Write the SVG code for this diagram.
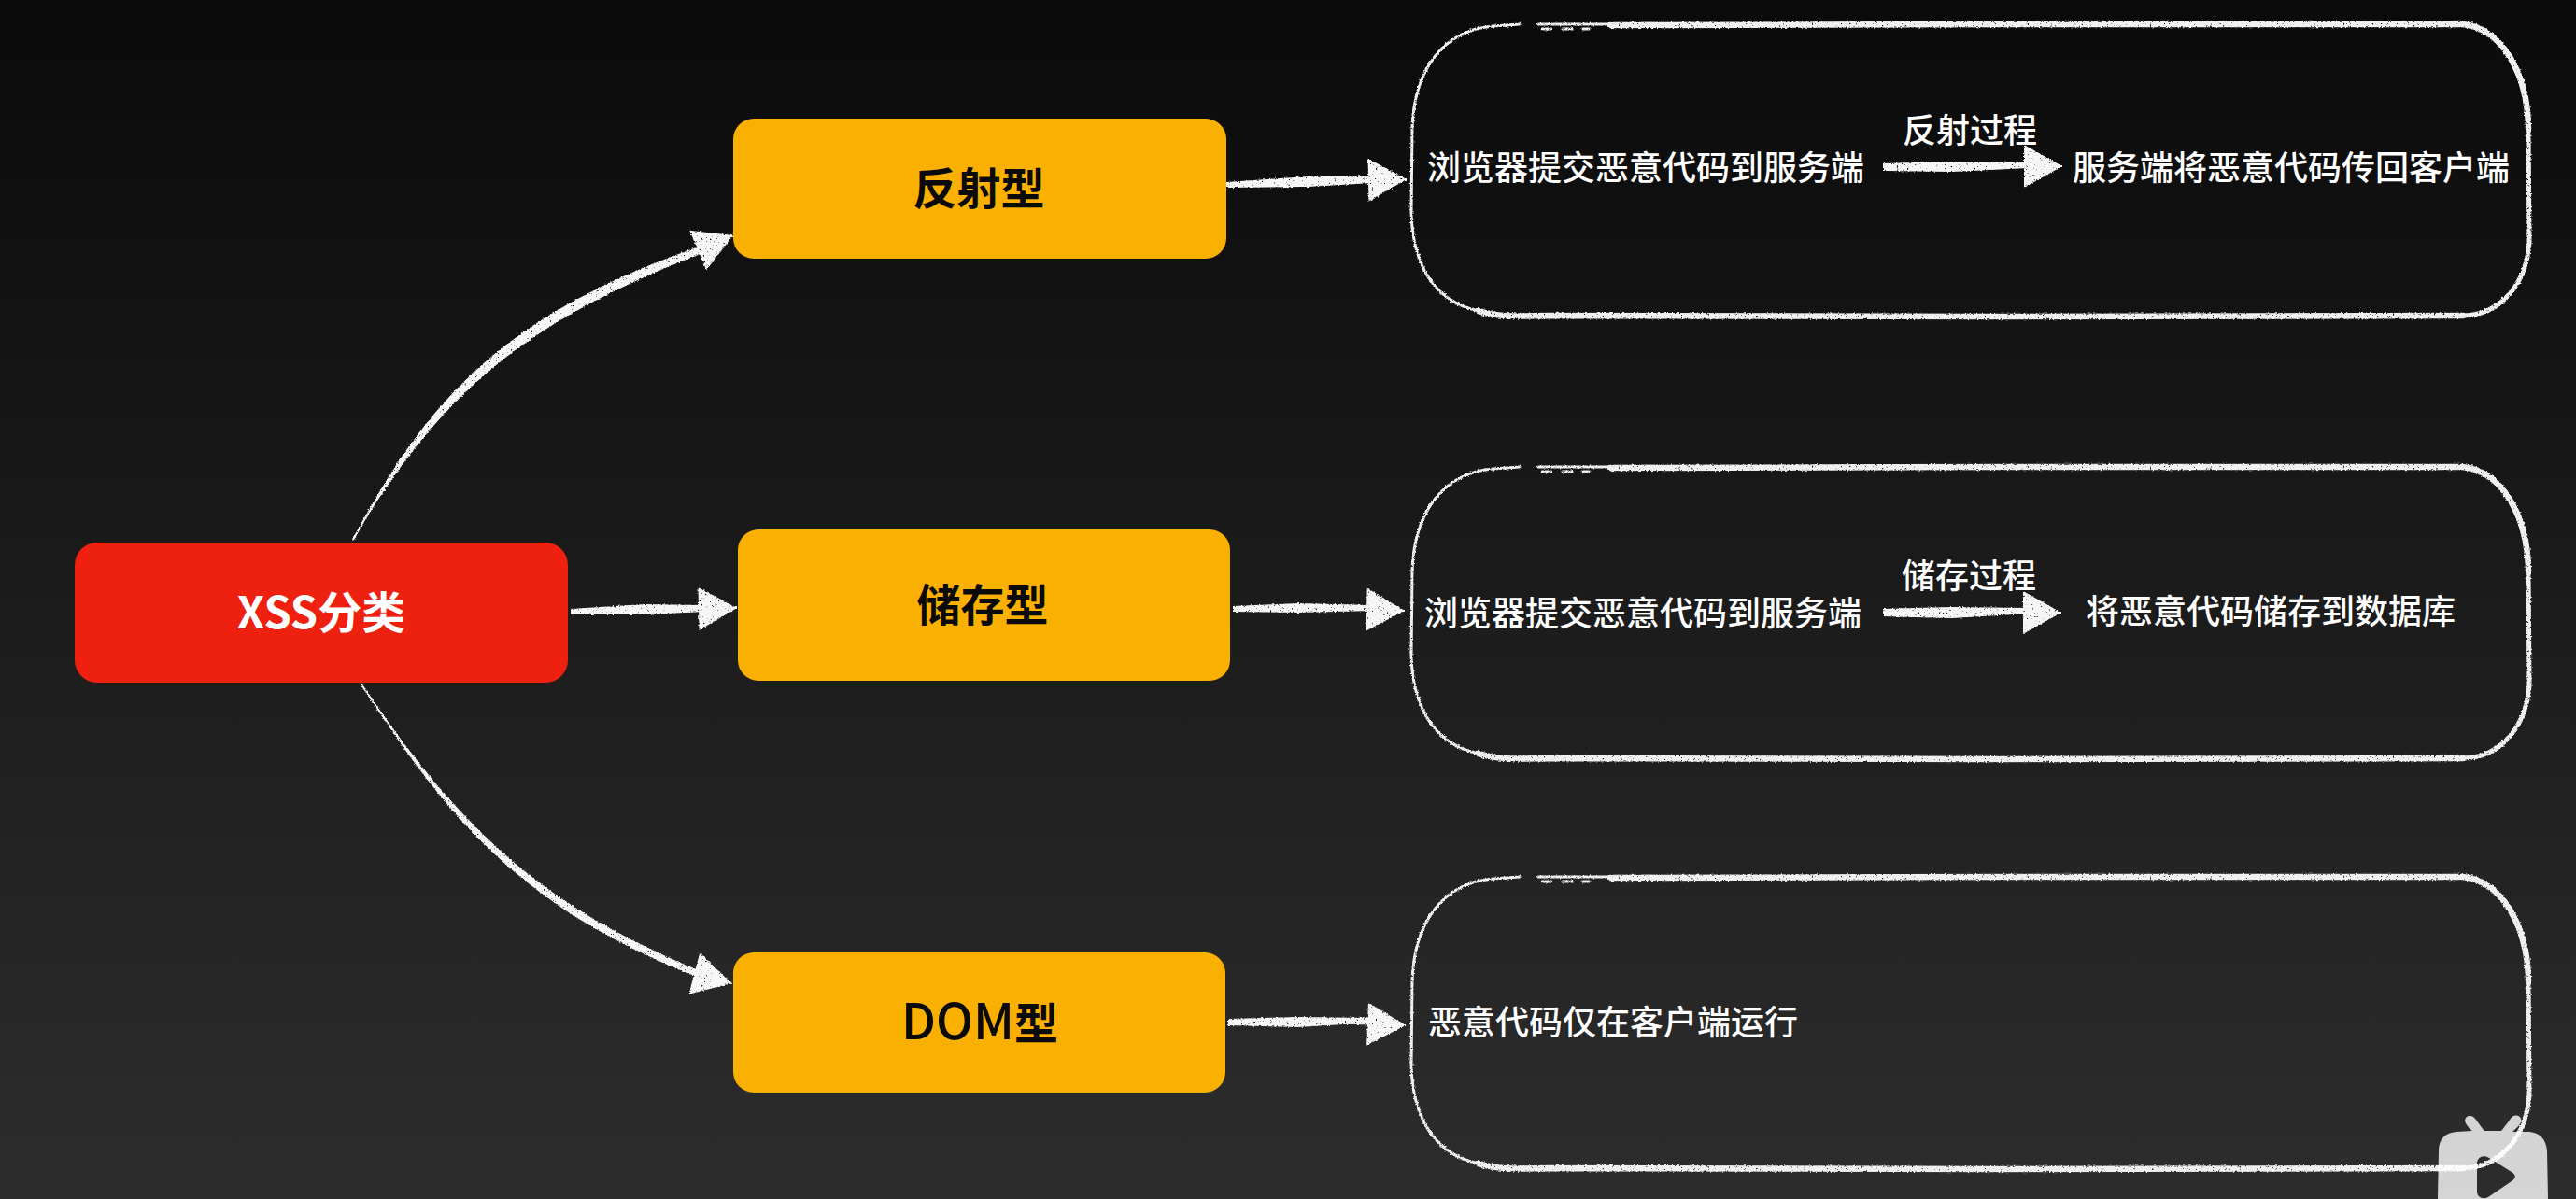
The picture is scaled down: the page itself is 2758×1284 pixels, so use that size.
<svg xmlns="http://www.w3.org/2000/svg" width="2758" height="1284" viewBox="0 0 2758 1284">
  <style>
    text { font-family: "Noto Sans CJK SC", "Noto Sans", "Liberation Sans", sans-serif; }
    .title { font-size: 47px; font-weight: 700; text-anchor: middle; fill: #0a0a0a; }
    .latin { font-size: 53px; font-weight: 500; }
    .root { font-size: 47px; font-weight: 700; text-anchor: middle; fill: #ffffff; }
    .body { font-size: 36px; font-weight: 500; fill: #ffffff; }
    .red { fill: #ee2010; }
    .orange { fill: #fab000; }
    .line { fill: none; stroke: #f4f4f4; stroke-width: 2; marker-end: url(#head); }
    .taper { fill: #f6f6f6; stroke: none; }
    .sk { fill: none; stroke: #f0f0f0; stroke-linecap: round; }
    .w2 { stroke-width: 3; }
    .w4 { stroke-width: 5; }
    .w5 { stroke-width: 6.5; }
  </style>
  <defs>
    <linearGradient id="bg" x1="0" y1="0" x2="0" y2="1">
      <stop offset="0" stop-color="#0a0a0a"/>
      <stop offset="1" stop-color="#2d2d2d"/>
    </linearGradient>
    <filter id="chalk" x="-3%" y="-6%" width="106%" height="112%">
      <feTurbulence type="fractalNoise" baseFrequency="0.45" numOctaves="2" seed="4" result="n"/>
      <feDisplacementMap in="SourceGraphic" in2="n" scale="3" xChannelSelector="R" yChannelSelector="G" result="d"/>
      <feColorMatrix in="n" type="matrix" values="0 0 0 0 1  0 0 0 0 1  0 0 0 0 1  0 0 0 -8 6.4" result="m"/>
      <feComposite in="d" in2="m" operator="in"/>
    </filter>
    <marker id="head" markerUnits="userSpaceOnUse" markerWidth="44" markerHeight="50" refX="41" refY="25" orient="auto" overflow="visible">
      <path d="M0,2 L41,25 L0,48 Z" fill="#f6f6f6"/>
    </marker>
    <g id="sketch">
      <path class="sk w2" d="M116,1 L88,3 C34,7 3,50 1,112 L0,205 C2,258 24,298 72,308"/>
      <path class="sk w2" d="M136,1 L213,1"/>
      <path class="sk w2" stroke-dasharray="10 12" d="M140,6 L190,6"/>
      <path class="sk w5" d="M213,2 L640,1 L1125,1"/>
      <path class="sk w5" d="M1125,1 C1165,4 1195,50 1196,112"/>
      <path class="sk w4" d="M1196,112 L1197,235 C1194,275 1170,312 1126,313"/>
      <path class="sk w5" d="M72,308 C90,314 110,314 140,313 L620,314 L1126,313"/>
    </g>
  </defs>

  <rect width="2758" height="1284" fill="url(#bg)"/>

  <g id="connectors" filter="url(#chalk)">
    <g id="c-xss-reflect">
      <path class="line" d="M378,578 C469,411 567,335 745,269 L785,252"/>
      <path class="taper" d="M378,578 C465,407 565,329 748,264 L750,272 C571,341 474,415 378,578 Z"/>
    </g>
    <g id="c-xss-store">
      <path class="line" d="M611,655 L700,653 L789,651"/>
      <path class="taper" d="M611,652 L690,647 L755,648 L755,655 L690,658 L611,658 Z"/>
    </g>
    <g id="c-xss-dom">
      <path class="line" d="M387,733 C486,882 568,972 745,1043 L783,1053"/>
      <path class="taper" d="M387,733 C488,879 571,967 748,1039 L746,1046 C567,976 483,885 387,733 Z"/>
    </g>
    <g id="c-reflect-1">
      <path class="line" d="M1313,198 L1400,194 L1506,192"/>
      <path class="taper" d="M1313,195 L1400,189 L1470,188 L1470,196 L1400,200 L1313,201 Z"/>
    </g>
    <g id="c-store-1">
      <path class="line" d="M1320,652 L1400,651 L1504,654"/>
      <path class="taper" d="M1320,649 L1390,646 L1470,648 L1470,654 L1390,656 L1320,655 Z"/>
    </g>
    <g id="c-dom-1">
      <path class="line" d="M1315,1095 L1400,1094 L1505,1098"/>
      <path class="taper" d="M1315,1091 L1390,1089 L1470,1090 L1470,1095 L1390,1100 L1315,1098 Z"/>
    </g>
    <g id="c-reflect-2">
      <path class="line" d="M2016,178 L2100,178 L2208,178"/>
      <path class="taper" d="M2016,175 L2090,173 L2172,174 L2172,180 L2090,184 L2016,183 Z"/>
    </g>
    <g id="c-store-2">
      <path class="line" d="M2016,656 L2100,656 L2207,656"/>
      <path class="taper" d="M2016,652 L2090,650 L2172,651 L2172,657 L2090,662 L2016,660 Z"/>
    </g>
  </g>

  <g id="node-xss">
    <rect class="red" x="80" y="581" width="528" height="150" rx="24"/>
    <text class="root" x="344" y="673">XSS分类</text>
  </g>
  <g id="node-reflect">
    <rect class="orange" x="785" y="127" width="528" height="150" rx="22"/>
    <text class="title" x="1048" y="219">反射型</text>
  </g>
  <g id="node-store">
    <rect class="orange" x="790" y="567" width="527" height="162" rx="22"/>
    <text class="title" x="1052" y="665">储存型</text>
  </g>
  <g id="node-dom">
    <rect class="orange" x="785" y="1020" width="527" height="150" rx="22"/>
    <text class="title" x="1049" y="1113"><tspan class="latin">DOM</tspan>型</text>
  </g>

  <g id="panel-reflect">
    <use href="#sketch" transform="translate(1511,25)" filter="url(#chalk)"/>
    <text class="body" x="1528" y="193">浏览器提交恶意代码到服务端</text>
    <text class="body" x="2037" y="153">反射过程</text>
    <text class="body" x="2219" y="193">服务端将恶意代码传回客户端</text>
  </g>
  <g id="panel-store">
    <use href="#sketch" transform="translate(1511,499)" filter="url(#chalk)"/>
    <text class="body" x="1525" y="670">浏览器提交恶意代码到服务端</text>
    <text class="body" x="2036" y="630">储存过程</text>
    <text class="body" x="2233" y="668">将恶意代码储存到数据库</text>
  </g>
  <g id="panel-dom">
    <use href="#sketch" transform="translate(1511,938)" filter="url(#chalk)"/>
    <text class="body" x="1529" y="1108">恶意代码仅在客户端运行</text>
  </g>

  <g id="watermark">
    <path fill="#ffffff" fill-opacity="0.8" fill-rule="evenodd" d="M2640,1203 C2637,1197 2643,1193 2648,1196 C2651,1198 2654,1204 2660,1211 L2678,1211 C2684,1204 2688,1197 2691,1195 C2696,1193 2701,1197 2699,1202 C2697,1206 2693,1209 2690,1212 L2708,1212 C2720,1213 2726,1221 2727,1232 L2728,1284 L2610,1284 L2611,1232 C2611,1221 2617,1213 2630,1212 L2647,1211 C2644,1209 2642,1206 2640,1203 Z M2652,1246 L2652,1276 C2652,1282 2658,1285 2664,1282 L2689,1265 C2694,1262 2694,1258 2689,1255 L2665,1240 C2659,1236 2652,1239 2652,1246 Z"/>
  </g>
</svg>
